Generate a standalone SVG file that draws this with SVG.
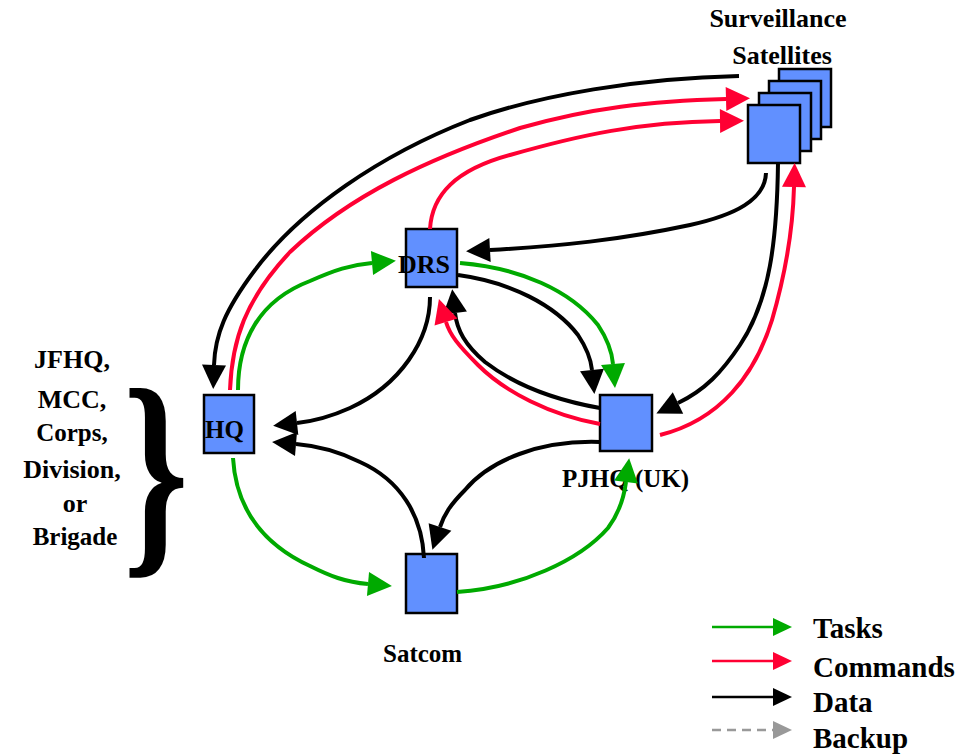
<svg xmlns="http://www.w3.org/2000/svg" width="960" height="756" viewBox="0 0 960 756">
<style>
.lbl{font-family:"Liberation Serif","Times New Roman",serif;font-weight:bold;fill:#000}
.box{fill:#6190ff;stroke:#000;stroke-width:2.5}
.c{fill:none;stroke-width:4;stroke-linecap:butt}
.g{stroke:#00aa00}
.r{stroke:#ff0033}
.k{stroke:#000}
.lg{fill:none;stroke-width:2.5}
</style>
<defs>
<marker id="mg" markerUnits="userSpaceOnUse" markerWidth="26" markerHeight="26" refX="0" refY="12" orient="auto" overflow="visible"><path d="M0,0 L24,12 L0,24 z" fill="#00aa00"/></marker>
<marker id="mr" markerUnits="userSpaceOnUse" markerWidth="26" markerHeight="26" refX="0" refY="12" orient="auto" overflow="visible"><path d="M0,0 L24,12 L0,24 z" fill="#ff0033"/></marker>
<marker id="mk" markerUnits="userSpaceOnUse" markerWidth="26" markerHeight="26" refX="0" refY="12" orient="auto" overflow="visible"><path d="M0,0 L24,12 L0,24 z" fill="#000"/></marker>
<marker id="lgg" markerUnits="userSpaceOnUse" markerWidth="20" markerHeight="18" refX="0" refY="9" orient="auto" overflow="visible"><path d="M0,0 L19,9 L0,18 z" fill="#00aa00"/></marker>
<marker id="lgr" markerUnits="userSpaceOnUse" markerWidth="20" markerHeight="18" refX="0" refY="9" orient="auto" overflow="visible"><path d="M0,0 L19,9 L0,18 z" fill="#ff0033"/></marker>
<marker id="lgk" markerUnits="userSpaceOnUse" markerWidth="20" markerHeight="18" refX="0" refY="9" orient="auto" overflow="visible"><path d="M0,0 L19,9 L0,18 z" fill="#000"/></marker>
<marker id="lgy" markerUnits="userSpaceOnUse" markerWidth="20" markerHeight="18" refX="0" refY="9" orient="auto" overflow="visible"><path d="M0,0 L19,9 L0,18 z" fill="#999"/></marker>
</defs>
<rect width="960" height="756" fill="#fff"/>

<g id="satellites">
<rect class="box" x="779" y="69" width="52" height="58"/>
<rect class="box" x="769" y="81" width="52" height="58"/>
<rect class="box" x="759" y="93" width="52" height="58"/>
<rect class="box" x="748" y="105" width="52" height="58"/>
<text class="lbl" x="778" y="27" font-size="26" text-anchor="middle">Surveillance</text>
<text class="lbl" x="782" y="64" font-size="26" text-anchor="middle">Satellites</text>
</g>
<g id="drs">
<rect class="box" x="406" y="229" width="51" height="58"/>
<text class="lbl" x="398" y="273" font-size="26">DRS</text>
</g>
<g id="hq">
<rect class="box" x="204" y="395" width="50" height="58"/>
<text class="lbl" x="205" y="438" font-size="25">HQ</text>
</g>
<g id="pjhq">
<rect class="box" x="600" y="395" width="52" height="56"/>
<text class="lbl" x="562" y="487" font-size="25">PJHQ (UK)</text>
</g>
<g id="satcom">
<rect class="box" x="406" y="554" width="51" height="59"/>
<text class="lbl" x="383" y="662" font-size="25">Satcom</text>
</g>
<g id="hq-types">
<text class="lbl" x="72" y="368" font-size="26" text-anchor="middle">JFHQ,</text>
<text class="lbl" x="72" y="408" font-size="26" text-anchor="middle">MCC,</text>
<text class="lbl" x="72" y="441" font-size="25" text-anchor="middle">Corps,</text>
<text class="lbl" x="72" y="478" font-size="26" text-anchor="middle">Division,</text>
<text class="lbl" x="75" y="512" font-size="26" text-anchor="middle">or</text>
<text class="lbl" x="75" y="545" font-size="25" text-anchor="middle">Brigade</text>
<text class="lbl" transform="translate(123,547) scale(0.76,1.05)" font-size="219">}</text>
</g>

<g id="connectors">
<path class="c k" d="M739,76 C640,78 540,95 470,120 C380,155 300,210 255,270 C225,310 215,335 214,365" marker-end="url(#mk)"/>
<path class="c r" d="M230,390 C232,340 245,300 290,252 C350,195 430,158 520,128 C590,108 650,101 726,99" marker-end="url(#mr)"/>
<path class="c g" d="M238,390 C238,340 260,300 310,281 C335,270 350,265 372,263" marker-end="url(#mg)"/>
<path class="c r" d="M430,229 C432,195 455,170 510,155 C580,135 640,122 720,121" marker-end="url(#mr)"/>
<path class="c k" d="M766,173 C765,200 735,215 690,225 C620,240 560,246 490,250" marker-end="url(#mk)"/>
<path class="c k" d="M778,163 C777,240 770,300 740,345 C722,372 705,390 678,403" marker-end="url(#mk)"/>
<path class="c r" d="M660,435 C720,420 755,375 772,320 C788,265 793,225 794,187" marker-end="url(#mr)"/>
<path class="c g" d="M460,263 C520,268 570,290 598,325 C608,340 612,352 613,364" marker-end="url(#mg)"/>
<path class="c k" d="M458,275 C510,282 555,305 578,335 C588,350 591,360 592,370" marker-end="url(#mk)"/>
<path class="c k" d="M600,408 C555,400 515,385 485,362 C465,345 457,330 455,313" marker-end="url(#mk)"/>
<path class="c r" d="M600,424 C550,415 505,392 478,365 C458,345 450,335 446,322" marker-end="url(#mr)"/>
<path class="c k" d="M430,297 C430,340 400,385 350,408 C330,417 315,421 297,423" marker-end="url(#mk)"/>
<path class="c k" d="M424,558 C422,515 400,480 360,462 C340,452 320,446 296,444" marker-end="url(#mk)"/>
<path class="c k" d="M600,442 C540,440 490,460 465,490 C450,505 444,515 440,527" marker-end="url(#mk)"/>
<path class="c g" d="M233,458 C236,510 265,545 310,566 C330,576 345,582 368,584" marker-end="url(#mg)"/>
<path class="c g" d="M457,592 C520,588 580,560 608,528 C620,512 624,497 626,482" marker-end="url(#mg)"/>
</g>

<g id="legend">
<path class="lg" stroke="#00aa00" d="M712,627 H773" marker-end="url(#lgg)"/>
<path class="lg" stroke="#ff0033" d="M712,661 H773" marker-end="url(#lgr)"/>
<path class="lg" stroke="#000" d="M712,697 H773" marker-end="url(#lgk)"/>
<path class="lg" stroke="#999" stroke-dasharray="9,6" d="M712,730 H773" marker-end="url(#lgy)"/>
<text class="lbl" x="813" y="638" font-size="29">Tasks</text>
<text class="lbl" x="813" y="677" font-size="29">Commands</text>
<text class="lbl" x="813" y="712" font-size="29">Data</text>
<text class="lbl" x="813" y="748" font-size="29">Backup</text>
</g>
</svg>
